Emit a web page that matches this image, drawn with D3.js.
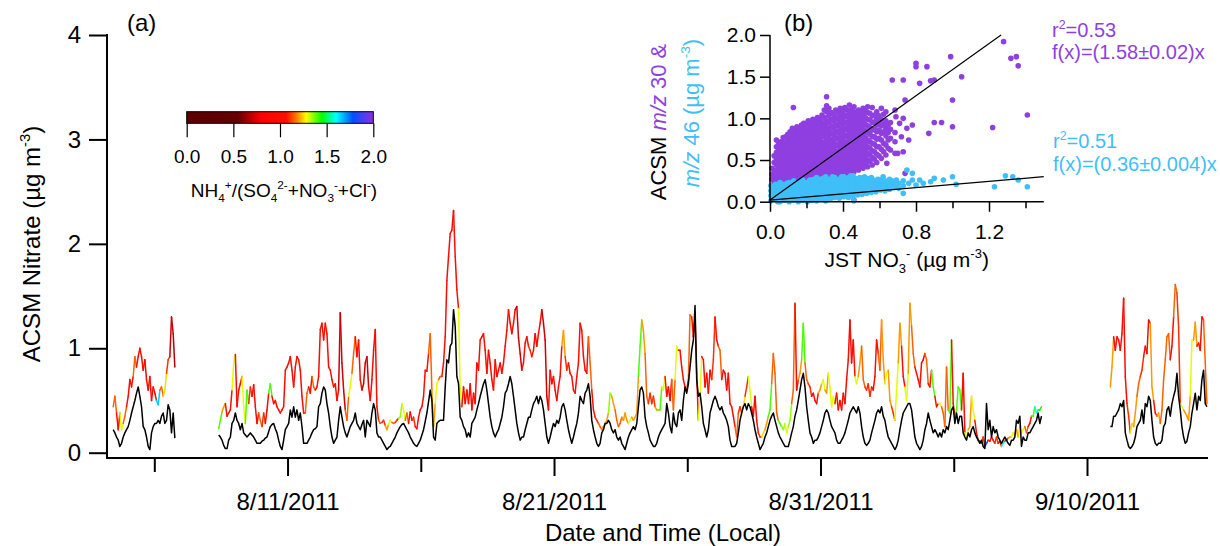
<!DOCTYPE html>
<html>
<head>
<meta charset="utf-8">
<script src="https://cdn.jsdelivr.net/npm/d3@7"></script>
<style>
  body { margin: 0; background: #fff; }
  svg { font-family: "Liberation Sans", Arial, Helvetica, sans-serif; }
</style>
</head>
<body>
<div id="chart"></div>
<script>
/* ---- time series: values every 1.5 h, NH4 ratio read every 3 h ---- */
var seg1Start = "2011-08-04T11:00";
var acsm1 = [0.44,0.54,0.38,0.22,0.38,0.22,0.28,0.35,0.44,0.54, 0.70,0.63,0.73,0.92,0.82,0.92,1.00,0.92,0.79,0.89,
  0.70,0.60,0.73,0.50,0.63,0.57,0.50,0.46,0.60,0.63, 0.54,0.60,0.76,0.89,0.92,1.30,1.14,0.82];
var jst1  = [0.22,0.19,0.15,0.12,0.06,0.09,0.15,0.19,0.22,0.25, 0.31,0.38,0.44,0.50,0.57,0.63,0.54,0.44,0.25,0.22,
  0.15,0.06,0.03,0.19,0.25,0.28,0.28,0.31,0.28,0.35, 0.38,0.28,0.31,0.46,0.41,0.19,0.38,0.14];
var ratio1 = [1.15,1.0,1.3,1.15,1.0,1.0,1.15,1.0,1.0,0.9,1.0,1.0,0.95,1.65,1.15,1.25,1.1,0.72,0.68,0.68];

var seg2Start = "2011-08-08T10:00";
var acsm2 = [
  0.23,0.31,0.39,0.44,0.47,0.35,0.38,0.41,0.60,0.86, 0.94,0.44,0.60,0.66,0.73,0.44,0.28,0.60,0.47,0.63,
  0.54,0.65,0.44,0.28,0.38,0.31,0.25,0.38,0.28,0.41, 0.57,0.66,0.54,0.47,0.50,0.44,0.41,0.38,0.41,0.44,
  0.79,0.82,0.86,0.92,0.79,0.63,0.82,0.92,0.89,0.79, 0.54,0.38,0.38,0.57,0.63,0.57,0.73,0.63,0.60,0.63,
  0.73,1.18,1.24,1.08,1.24,1.14,0.82,0.79,0.70,0.63, 0.66,0.50,0.60,1.34,0.86,0.60,0.41,0.31,0.54,0.63,
  0.76,0.95,1.11,0.92,1.08,0.70,0.60,0.66,0.86,0.92, 0.63,0.50,0.70,0.98,1.18,0.44,0.31,
  0.28,0.29,0.31,0.26,0.22,0.27,0.31,0.29,0.28,0.29, 0.31,0.33,0.34,0.47,0.41,0.31,0.38,0.28,0.39,0.31,
  0.34,0.25,0.23,0.34,0.41,0.44,0.54,0.79,0.78,0.95, 1.14,0.60,0.25,0.47,0.66,0.70,0.73,0.73,0.86,1.11,
  1.65,1.88,2.10,2.13,2.32,1.88,1.56,1.38,0.60,0.44, 0.63,0.47,0.60,0.47,0.66,0.41,0.57,0.47,0.86,0.79,
  1.08,1.11,1.14,0.98,0.76,0.98,0.86,0.70,0.60,0.89, 0.73,0.79,0.86,0.76,0.86,1.02,1.17,1.37,1.24,1.14,
  1.24,1.37,1.40,1.10,0.95,0.79,0.86,1.05,1.11,1.02, 0.98,0.92,0.98,1.14,1.02,1.14,1.24,1.37,1.24,1.08,
  0.54,0.41,0.79,0.66,0.73,0.60,0.50,0.63,0.73,1.02, 1.17,0.92,0.79,0.86,0.76,0.73,0.60,0.57,0.73,0.86,
  1.24,1.17,0.92,0.79,0.76,1.11,0.86,0.60,0.41,0.34, 0.31,0.28,0.25,0.22,0.25,0.28,0.31,0.38,0.57,0.54,
  0.47,0.41,0.31,0.25,0.28,0.34,0.31,0.38,0.31,0.28, 0.31,0.34,0.31,0.34,0.38,0.73,1.02,1.27,1.17,0.95,
  0.54,0.47,0.57,0.47,0.54,0.44,0.41,0.41,
  0.41,0.63,0.60,0.73,0.54,0.63,0.50,0.70,0.41,0.70, 1.02,0.98,0.98,0.82,0.70,0.63,0.60,0.70,1.32,1.30,
  1.11,1.30,0.76,0.31,0.54,0.92,0.89,0.63,0.76,0.57, 0.79,0.70,0.89,1.30,1.08,1.02,0.98,0.70,0.79,0.76,
  0.60,0.76,0.47,0.44,0.35,0.25,0.15,0.38,0.44,0.38, 0.44,0.54,0.63,0.73,0.60,0.44,0.35,0.54,0.31,0.19,
  0.15,0.15,0.19,0.22,0.28,0.35,0.41,0.66,0.95,0.76, 0.38,0.31,0.28,0.25,0.22,0.28,0.19,0.25,0.31,0.47,
  0.60,1.43,0.60,0.70,0.76,0.89,1.24,0.86,0.70,0.66, 0.63,0.54,0.57,0.50,0.47,0.57,0.60,0.66,0.70,0.60,
  0.57,0.76,0.63,0.44,0.54,0.47,0.57,0.41,0.50,0.41, 0.57,0.47,0.70,0.89,1.27,0.86,1.08,0.73,0.66,0.73,
  0.86,1.02,0.70,0.63,0.60,0.66,0.54,0.63,0.60,0.73, 1.08,0.95,0.79,1.27,0.89,0.66,0.76,0.79,0.50,0.44,
  0.38,0.31,0.60,0.86,1.24,1.02,0.73,0.63,0.50,0.76, 1.43,1.21,0.95,0.82,0.76,0.70,0.63,0.86,0.89,0.95,
  0.89,0.66,0.63,0.79,0.63,0.54,0.44,0.47,
  0.47,0.44,0.38,0.25,0.82,0.41,0.38,1.08,0.47,0.35, 0.41,0.63,0.60,0.41,0.76,0.19,0.15,0.22,0.25,0.54,
  0.41,0.31,0.19,0.12,0.11,0.09,0.15,0.06,0.09,0.12, 0.11,0.15,0.12,0.09,0.15,0.09,0.11,0.06,0.09,0.11,
  0.12,0.14,0.15,0.15,0.19,0.17,0.22,0.15,0.25,0.19, 0.22,0.25,0.19,0.25,0.28,0.35,0.35,0.44,0.38,0.41,
  0.41,0.44
];
var jst2 = [
  0.17,0.15,0.12,0.07,0.04,0.04,0.12,0.15,0.28,0.31, 0.38,0.31,0.28,0.22,0.28,0.19,0.17,0.15,0.17,0.19,
  0.17,0.15,0.12,0.09,0.09,0.09,0.11,0.12,0.14,0.15, 0.20,0.25,0.27,0.28,0.23,0.19,0.12,0.06,0.03,0.12,
  0.22,0.25,0.28,0.41,0.34,0.44,0.34,0.41,0.31,0.38, 0.25,0.09,0.09,0.09,0.12,0.15,0.19,0.22,0.23,0.25,
  0.44,0.47,0.57,0.63,0.60,0.47,0.38,0.25,0.15,0.09, 0.12,0.15,0.31,0.44,0.34,0.25,0.19,0.15,0.20,0.25,
  0.28,0.31,0.38,0.28,0.25,0.22,0.27,0.31,0.15,0.31, 0.28,0.25,0.38,0.47,0.41,0.19,0.15,
  0.15,0.12,0.09,0.06,0.03,0.05,0.06,0.09,0.12,0.15, 0.19,0.22,0.25,0.27,0.28,0.25,0.22,0.19,0.15,0.12,
  0.09,0.07,0.06,0.09,0.12,0.17,0.22,0.30,0.38,0.49, 0.60,0.50,0.15,0.12,0.28,0.30,0.31,0.31,0.31,0.63,
  0.89,0.86,1.02,1.05,1.37,1.21,0.73,0.66,0.34,0.31, 0.25,0.22,0.15,0.19,0.15,0.28,0.31,0.34,0.41,0.47,
  0.54,0.60,0.66,0.70,0.60,0.47,0.34,0.25,0.19,0.15, 0.19,0.22,0.28,0.34,0.44,0.57,0.60,0.66,0.73,0.66,
  0.54,0.41,0.28,0.19,0.12,0.15,0.15,0.22,0.28,0.34, 0.34,0.41,0.47,0.50,0.54,0.47,0.54,0.50,0.41,0.28,
  0.15,0.09,0.15,0.22,0.28,0.25,0.31,0.28,0.34,0.44, 0.47,0.41,0.31,0.22,0.15,0.09,0.15,0.22,0.28,0.38,
  0.54,0.50,0.47,0.57,0.60,0.66,0.54,0.31,0.22,0.15, 0.09,0.06,0.09,0.19,0.22,0.28,0.28,0.31,0.28,0.22,
  0.19,0.22,0.15,0.12,0.15,0.09,0.06,0.03,0.09,0.15, 0.19,0.22,0.25,0.22,0.28,0.44,0.60,0.63,0.57,0.34,
  0.25,0.19,0.12,0.09,0.06,0.06,0.09,0.15,
  0.19,0.22,0.25,0.28,0.47,0.38,0.25,0.19,0.38,0.28, 0.25,0.38,0.41,0.31,0.50,0.63,0.57,0.66,0.82,0.98,
  1.08,1.41,0.70,0.54,0.57,0.44,0.28,0.22,0.15,0.22, 0.38,0.44,0.50,0.54,0.50,0.44,0.41,0.44,0.38,0.35,
  0.31,0.25,0.12,0.06,0.06,0.06,0.09,0.19,0.31,0.38, 0.44,0.47,0.41,0.47,0.44,0.38,0.31,0.22,0.15,0.09,
  0.03,0.06,0.09,0.15,0.19,0.25,0.31,0.35,0.38,0.31, 0.25,0.19,0.15,0.12,0.09,0.06,0.06,0.06,0.12,0.19,
  0.25,0.35,0.41,0.50,0.60,0.70,0.76,0.63,0.44,0.31, 0.19,0.15,0.09,0.12,0.12,0.15,0.19,0.25,0.31,0.38,
  0.41,0.38,0.31,0.25,0.22,0.19,0.12,0.09,0.09,0.12, 0.15,0.19,0.25,0.31,0.38,0.41,0.44,0.41,0.38,0.44,
  0.38,0.25,0.15,0.09,0.07,0.09,0.12,0.19,0.25,0.31, 0.38,0.41,0.38,0.44,0.35,0.31,0.22,0.15,0.12,0.09,
  0.06,0.03,0.06,0.12,0.22,0.31,0.38,0.41,0.44,0.47, 0.47,0.41,0.28,0.15,0.09,0.06,0.03,0.06,0.12,0.22,
  0.28,0.38,0.31,0.25,0.19,0.22,0.19,0.15,
  0.19,0.15,0.22,0.19,0.25,0.22,0.31,0.41,0.44,0.28, 0.38,0.28,0.35,0.35,0.19,0.15,0.12,0.19,0.15,0.22,
  0.25,0.19,0.15,0.12,0.09,0.12,0.06,0.04,0.47,0.22, 0.31,0.15,0.25,0.19,0.22,0.15,0.12,0.09,0.12,0.15,
  0.12,0.09,0.07,0.12,0.12,0.15,0.31,0.28,0.35,0.06, 0.15,0.12,0.12,0.19,0.19,0.22,0.25,0.28,0.31,0.38,
  0.28,0.35
];
var ratio2 = [
  1.4,1.2,1.0,1.0,1.3,1.0,1.0,1.3,1.4,1.1, 1.0,1.0,1.15,1.1,1.0,1.4,1.0,1.0,1.0,1.0,
  1.0,1.0,1.0,1.0,1.0,1.0,1.15,1.0,1.15,1.0, 1.0,1.0,1.0,1.0,1.0,1.0,0.72,0.72,1.15,1.3,
  1.15,1.0,1.0,0.72,0.72,0.9,1.0,1.0,1.15,1.1, 1.2,1.3,1.15,1.1,1.35,1.3,1.15,1.0,1.1,1.0,
  1.0,1.0,1.05,1.15,1.2,1.3,1.15,1.0,1.0,1.0, 1.0,1.0,1.3,1.0,1.0,1.0,1.0,1.0,1.0,1.0,
  1.0,1.0,1.0,1.0,1.0,1.0,1.0,1.0,1.0,0.72, 0.72,1.0,1.0,1.1,1.0,0.9,1.0,0.72,0.72,1.0,
  1.0,1.0,1.0,1.2,1.1,1.0,1.0,1.0,1.0,1.0, 1.0,1.15,1.0,1.1,1.15,1.2,1.2,1.35,1.2,1.15,
  1.15,1.2,1.2,1.3,1.2,1.2,1.4,1.2,1.15,1.1, 1.1,1.2,1.4,1.3,1.0,1.0,1.15,1.3,1.0,1.0,
  1.0,1.15,1.0,1.0,1.3,1.0,1.0,1.0,1.1,1.0, 1.15,1.0,1.0,1.0,1.0,1.15,1.1,1.25,1.1,1.3,
  1.0,1.0,1.1,1.25,1.2,1.4,1.15,1.15,1.4,1.35, 1.3,1.35,1.15,1.0,1.2,1.4,1.15,1.1,1.0,1.0,
  1.2,1.3,1.2,1.3,1.3,1.0,1.0,1.0,1.0,1.0, 1.0,1.3,1.2,1.15,1.1,1.1,1.0,1.0,1.15,1.2,
  1.3,1.2,1.1,1.3,1.2,1.0,1.3,1.2,1.15,1.0, 1.0,0.9,1.15,1.0,1.4,1.0,1.3,1.15,1.15,1.4,
  1.0,1.4,1.4,1.0,1.3,1.2,1.3,1.0,1.0,1.1, 1.8,1.0,1.0,1.1,1.0,1.6,1.0,1.2,1.3,1.2,
  1.25,1.3,1.15,1.0,1.4,1.6,1.45,1.45
];

var seg3Start = "2011-09-10T21:00";
var acsm3 = [0.63,0.82,1.11,0.98,1.11,1.08,0.98,1.14,1.48,0.73, 0.47,0.35,0.19,0.28,0.25,0.38,0.54,0.66,0.73,0.79,
  0.92,1.02,0.95,1.27,1.24,0.63,0.50,0.38,0.35,0.38, 0.28,0.41,0.70,0.89,1.11,1.14,0.89,1.02,1.30,1.61,
  1.53,1.20,0.47,0.44,0.41,0.38,0.35,0.31,0.54,1.08, 1.08,1.25,1.02,1.05,0.98,1.30,1.27,0.86,0.47];
var jst3  = [0.25,0.25,0.35,0.35,0.38,0.41,0.47,0.44,0.50,0.19, 0.12,0.06,0.04,0.06,0.09,0.15,0.25,0.28,0.31,0.41,
  0.28,0.47,0.44,0.54,0.50,0.31,0.15,0.09,0.07,0.09, 0.09,0.12,0.25,0.28,0.41,0.44,0.35,0.47,0.54,0.60,
  0.76,0.54,0.41,0.25,0.15,0.09,0.11,0.19,0.25,0.38, 0.47,0.57,0.41,0.54,0.50,0.70,0.79,0.47,0.44];
var ratio3 = [1.2,1.0,1.0,1.0,1.0,1.1,1.25,1.2,1.15,1.1,1.0,1.0,1.2,1.0,1.2,1.15,1.15,1.15,1.0,1.15,1.1,1.3,1.2,1.2,1.3,1.2,1.0,1.0,1.15,1.3];

var majorDates = ["2011-08-11", "2011-08-21", "2011-08-31", "2011-09-10"];
var minorDates = ["2011-08-06", "2011-08-16", "2011-08-26", "2011-09-05"];
var yTicks = [0, 1, 2, 3, 4];

/* ---- scatter inset: columns of points [x, [y...]] plus loose points ---- */
var mz30Columns = [
  [0.010,[0.12,0.19,0.27,0.33,0.40]],
  [0.0225,[0.16,0.23,0.31,0.38,0.47,0.55]],
  [0.035,[0.13,0.21,0.28,0.36,0.44,0.51,0.59,0.66,0.74]],
  [0.0475,[0.17,0.25,0.32,0.40,0.48,0.55,0.63,0.70]],
  [0.060,[0.15,0.22,0.30,0.37,0.45,0.52,0.60,0.67,0.72]],
  [0.0725,[0.19,0.26,0.34,0.41,0.49,0.56,0.64,0.71,0.77]],
  [0.085,[0.16,0.24,0.31,0.39,0.46,0.54,0.61,0.69,0.78]],
  [0.0975,[0.20,0.28,0.35,0.43,0.50,0.58,0.66,0.74,0.81]],
  [0.110,[0.17,0.25,0.32,0.40,0.47,0.55,0.62,0.70,0.77,0.84]],
  [0.1225,[0.21,0.29,0.36,0.44,0.51,0.59,0.67,0.74,0.81,0.88]],
  [0.135,[0.19,0.26,0.34,0.41,0.49,0.56,0.64,0.71,0.79,0.86]],
  [0.1475,[0.23,0.30,0.38,0.45,0.53,0.60,0.68,0.76,0.83,0.90]],
  [0.160,[0.20,0.28,0.35,0.43,0.50,0.58,0.65,0.73,0.80,0.88]],
  [0.1725,[0.24,0.32,0.39,0.47,0.55,0.62,0.70,0.77,0.85,0.92]],
  [0.185,[0.21,0.29,0.36,0.44,0.52,0.59,0.67,0.74,0.82,0.89,0.94]],
  [0.1975,[0.25,0.33,0.41,0.48,0.56,0.64,0.71,0.79,0.87,0.94]],
  [0.210,[0.22,0.30,0.38,0.45,0.53,0.60,0.68,0.76,0.83,0.91,0.97]],
  [0.2225,[0.26,0.34,0.42,0.50,0.57,0.65,0.73,0.80,0.88,0.95]],
  [0.235,[0.24,0.31,0.39,0.47,0.54,0.62,0.69,0.77,0.85,0.92,0.99]],
  [0.2475,[0.28,0.36,0.43,0.51,0.59,0.66,0.74,0.82,0.90,0.97]],
  [0.260,[0.25,0.33,0.40,0.48,0.56,0.63,0.71,0.79,0.86,0.94,1.01]],
  [0.2725,[0.29,0.37,0.45,0.53,0.60,0.68,0.76,0.83,0.91,0.99]],
  [0.285,[0.26,0.34,0.42,0.49,0.57,0.65,0.72,0.80,0.88,0.95,1.04]],
  [0.2975,[0.31,0.39,0.46,0.54,0.62,0.70,0.78,0.85,0.93,1.01,1.10]],
  [0.310,[0.27,0.35,0.43,0.51,0.58,0.66,0.74,0.82,0.89,0.97,1.08,1.15,1.26]],
  [0.3225,[0.32,0.40,0.48,0.56,0.63,0.71,0.79,0.87,0.95,1.03,1.12]],
  [0.335,[0.29,0.37,0.44,0.52,0.60,0.68,0.75,0.83,0.91,0.99,1.07]],
  [0.3475,[0.33,0.41,0.49,0.57,0.65,0.73,0.81,0.89,0.97,1.05]],
  [0.360,[0.30,0.38,0.46,0.54,0.61,0.69,0.77,0.85,0.93,1.01,1.10]],
  [0.3725,[0.35,0.43,0.51,0.59,0.67,0.75,0.83,0.91,0.99,1.07]],
  [0.385,[0.31,0.39,0.47,0.55,0.63,0.71,0.79,0.87,0.95,1.03,1.12]],
  [0.3975,[0.36,0.44,0.52,0.60,0.68,0.76,0.84,0.92,1.00,1.08]],
  [0.410,[0.33,0.41,0.49,0.57,0.65,0.72,0.80,0.88,0.96,1.04,1.13]],
  [0.4225,[0.38,0.46,0.54,0.62,0.70,0.78,0.86,0.94,1.02,1.10]],
  [0.435,[0.34,0.42,0.50,0.58,0.66,0.74,0.82,0.90,0.98,1.06,1.16]],
  [0.4475,[0.39,0.47,0.55,0.63,0.71,0.79,0.87,0.95,1.03,1.11]],
  [0.460,[0.36,0.44,0.52,0.60,0.68,0.76,0.84,0.92,1.00,1.08,1.14]],
  [0.4725,[0.41,0.49,0.57,0.65,0.73,0.81,0.89,0.97,1.05]],
  [0.485,[0.38,0.46,0.54,0.62,0.70,0.78,0.86,0.94,1.02,1.10]],
  [0.4975,[0.43,0.51,0.59,0.67,0.75,0.83,0.91,0.99,1.07]],
  [0.510,[0.40,0.48,0.56,0.64,0.72,0.80,0.88,0.96,1.04,1.12]],
  [0.5225,[0.45,0.53,0.61,0.69,0.77,0.85,0.93,1.01,1.09]],
  [0.535,[0.42,0.50,0.58,0.66,0.74,0.83,0.91,0.99,1.07,1.14]],
  [0.5475,[0.48,0.56,0.64,0.72,0.81,0.89,0.98,1.06]],
  [0.560,[0.44,0.53,0.61,0.70,0.78,0.86,0.95,1.03,1.13]],
  [0.5725,[0.51,0.60,0.69,0.78,0.87,0.96,1.04]],
  [0.585,[0.47,0.57,0.66,0.75,0.84,0.92,1.00,1.08]],
  [0.5975,[0.55,0.66,0.76,0.86,0.95,1.03]],
  [0.610,[0.52,0.63,0.74,0.82,0.91,0.99,1.12]],
  [0.6225,[0.60,0.70,0.84,0.93,1.05]],
  [0.635,[0.56,0.68,0.79,0.88,0.97,1.08]],
  [0.6475,[0.64,0.74,0.83,0.92]],
  [0.660,[0.62,0.76,0.87,0.95]],
  [0.685,[0.58,0.72,0.83,1.10]]
];
var mz30Loose = [[0.128,1.13],[0.67,1.46],[0.70,0.58],[0.73,0.60],[0.71,0.94],[0.73,1.00],[0.74,1.22],[0.73,1.46],
  [0.78,0.92],[0.80,1.66],[0.80,1.62],[0.82,1.42],[0.86,1.62],[0.87,0.82],[0.88,1.45],[0.90,1.46],[0.90,0.95],
  [0.94,0.95],[0.99,1.74],[1.00,1.22],[1.00,0.90],[1.05,1.50],[1.22,0.89],[1.28,1.92],[1.32,1.72],[1.35,1.74],
  [1.36,1.63],[1.41,1.04],[0.74,0.34],[0.46,0.02],[0.76,0.74],[0.72,0.78],[0.64,0.46],[0.69,1.02],[0.75,0.88]];

var mz46Columns = [
  [0.005,[0.01,0.07,0.13,0.19]],
  [0.0175,[0.04,0.10,0.16]],
  [0.030,[0.03,0.09,0.15,0.21]],
  [0.0425,[0.00,0.06,0.12,0.18]],
  [0.055,[0.00,0.06,0.12,0.18,0.23]],
  [0.0675,[0.03,0.09,0.15,0.21]],
  [0.080,[0.02,0.08,0.14,0.20]],
  [0.0925,[0.05,0.11,0.17,0.22]],
  [0.105,[0.00,0.05,0.11,0.17,0.23]],
  [0.1175,[0.03,0.08,0.14,0.20]],
  [0.130,[0.02,0.08,0.14,0.20,0.25]],
  [0.1425,[0.05,0.11,0.17,0.23]],
  [0.155,[0.00,0.05,0.11,0.17,0.23]],
  [0.1675,[0.02,0.08,0.14,0.20,0.25]],
  [0.180,[0.02,0.08,0.14,0.20,0.26]],
  [0.1925,[0.05,0.11,0.17,0.23]],
  [0.205,[0.00,0.05,0.11,0.17,0.23]],
  [0.2175,[0.02,0.08,0.14,0.20,0.26]],
  [0.230,[0.02,0.08,0.14,0.20,0.26]],
  [0.2425,[0.04,0.10,0.16,0.22,0.27]],
  [0.255,[0.01,0.06,0.12,0.18,0.24,0.29]],
  [0.2675,[0.03,0.09,0.15,0.21,0.27]],
  [0.280,[0.03,0.09,0.15,0.21,0.27]],
  [0.2925,[0.04,0.09,0.15,0.21,0.28]],
  [0.305,[0.01,0.06,0.12,0.18,0.24,0.30]],
  [0.3175,[0.03,0.09,0.15,0.21,0.27]],
  [0.330,[0.03,0.09,0.15,0.21,0.27]],
  [0.3425,[0.06,0.12,0.18,0.24,0.30]],
  [0.355,[0.05,0.11,0.17,0.23,0.29]],
  [0.3675,[0.07,0.13,0.19,0.25]],
  [0.380,[0.04,0.09,0.15,0.21,0.27]],
  [0.3925,[0.07,0.12,0.18,0.24,0.30]],
  [0.405,[0.06,0.12,0.18,0.24,0.30]],
  [0.4175,[0.08,0.14,0.20,0.26]],
  [0.430,[0.05,0.10,0.16,0.22,0.28]],
  [0.4425,[0.08,0.13,0.19,0.25,0.31]],
  [0.455,[0.07,0.13,0.19,0.25,0.31]],
  [0.4675,[0.10,0.16,0.22,0.28]],
  [0.480,[0.08,0.14,0.20,0.26]],
  [0.4925,[0.11,0.17,0.23,0.29]],
  [0.505,[0.09,0.15,0.21,0.27]],
  [0.5175,[0.12,0.18,0.24,0.30]],
  [0.530,[0.10,0.16,0.22,0.28]],
  [0.5425,[0.13,0.19,0.25]],
  [0.555,[0.11,0.17,0.23,0.29]],
  [0.5675,[0.14,0.20,0.26]],
  [0.580,[0.12,0.18,0.24]],
  [0.5925,[0.15,0.21,0.27]],
  [0.605,[0.14,0.20,0.26]],
  [0.6175,[0.16,0.22]],
  [0.630,[0.13,0.19,0.25]],
  [0.6425,[0.17,0.23]],
  [0.655,[0.15,0.21,0.27]],
  [0.6675,[0.19,0.25]],
  [0.680,[0.17,0.23]],
  [0.6925,[0.18,0.26]],
  [0.705,[0.16,0.22]],
  [0.730,[0.10,0.19,0.25]]
];
var mz46Loose = [[0.75,0.38],[0.76,0.22],[0.78,0.34],[0.78,0.26],[0.80,0.20],[0.82,0.26],[0.84,0.22],[0.88,0.24],
  [0.90,0.28],[0.95,0.26],[1.00,0.30],[1.02,0.21],[1.23,0.18],[1.29,0.31],[1.33,0.30],[1.36,0.26],[1.41,0.18],
  [0.46,0.01],[0.62,0.30]];

var mz30Fit = [[0, 0.02], [1.266, 2.0]];
var mz46Fit = [[0, 0.02], [1.5, 0.30]];

var colorStops = [[0,"#5a0000"],[0.55,"#660000"],[0.8,"#ff0000"],[1.07,"#ff1000"],[1.18,"#ff8000"],
  [1.28,"#ffff00"],[1.45,"#00ff00"],[1.6,"#00ffff"],[1.78,"#0050ff"],[2.0,"#9030e0"]];

var purple = "#8f3fe0", blue = "#3fbff8";

/* ---- setup ---- */
var W = 1220, H = 546;
var svg = d3.select("#chart").append("svg").attr("width", W).attr("height", H);

var parseT = d3.timeParse("%Y-%m-%dT%H:%M");
var parseD = d3.timeParse("%Y-%m-%d");
var stepMs = 1.5 * 3600 * 1000;   // one value every 1.5 h, ratio every 2 values
function makeSeg(start, acsm, jst, ratio) {
  var t0 = parseT(start).getTime();
  return acsm.map(function(v, i) {
    return { t: new Date(t0 + i * stepMs), v: v, j: jst[i], r: ratio[Math.floor(i / 2)] };
  });
}
var segments = [makeSeg(seg1Start, acsm1, jst1, ratio1), makeSeg(seg2Start, acsm2, jst2, ratio2), makeSeg(seg3Start, acsm3, jst3, ratio3)];

var ratioColor = d3.scaleLinear().domain(colorStops.map(function(d){return d[0];}))
  .range(colorStops.map(function(d){return d[1];})).clamp(true);

function richText(sel, parts, size) {
  var shift = 0;
  parts.forEach(function(p) {
    var kind = p[1] || "";
    var target = kind === "sup" ? -0.42 * size : (kind === "sub" ? 0.28 * size : 0);
    var ts = sel.append("tspan").text(p[0]).attr("dy", target - shift);
    if (kind) ts.attr("font-size", size * 0.62);
    if (p[2]) ts.attr("fill", p[2]);
    if (p[3]) ts.attr("font-style", "italic");
    shift = target;
  });
}

/* ---- main panel (a) ---- */
var left = 107, right = 1208, axisY = 458;
var x = d3.scaleTime().domain([parseD("2011-08-06"), parseD("2011-09-10")]).range([154.3, 1087]);
var y = d3.scaleLinear().domain([0, 4]).range([452.7, 35]);

var plot = svg.append("g");
segments.forEach(function(seg) {
  for (var i = 0; i < seg.length - 1; i++) {
    plot.append("line")
      .attr("x1", x(seg[i].t)).attr("y1", y(seg[i].v))
      .attr("x2", x(seg[i+1].t)).attr("y2", y(seg[i+1].v))
      .attr("stroke", ratioColor(seg[i].r)).attr("stroke-width", 1.5)
      .attr("stroke-linecap", "round");
  }
});
var jstLine = d3.line().x(function(d){return x(d.t);}).y(function(d){return y(d.j);});
segments.forEach(function(seg) {
  plot.append("path").attr("d", jstLine(seg)).attr("fill", "none")
    .attr("stroke", "#000").attr("stroke-width", 1.5).attr("stroke-linejoin", "round");
});

// axes
var yAxis = svg.append("g").attr("transform", "translate(" + left + ",0)")
  .call(d3.axisLeft(y).tickValues(yTicks).tickSize(18).tickPadding(8).tickFormat(d3.format("d")));
yAxis.select(".domain").remove();
yAxis.selectAll("line").attr("stroke-width", 2);
yAxis.selectAll("text").attr("font-size", 24).attr("font-family", null).attr("fill", "#000");

var xMajor = svg.append("g").attr("transform", "translate(0," + axisY + ")")
  .call(d3.axisBottom(x).tickValues(majorDates.map(parseD)).tickSize(18).tickPadding(17)
    .tickFormat(d3.timeFormat("%-m/%-d/%Y")));
xMajor.select(".domain").remove();
xMajor.selectAll("line").attr("stroke-width", 2);
xMajor.selectAll("text").attr("font-size", 24).attr("font-family", null).attr("fill", "#000");

var xMinor = svg.append("g").attr("transform", "translate(0," + axisY + ")")
  .call(d3.axisBottom(x).tickValues(minorDates.map(parseD)).tickSize(14).tickFormat(""));
xMinor.select(".domain").remove();
xMinor.selectAll("line").attr("stroke-width", 2);

svg.append("path").attr("d", "M" + left + ",34V" + axisY + "H" + right)
  .attr("fill", "none").attr("stroke", "#000").attr("stroke-width", 2);

richText(svg.append("text").attr("transform", "translate(40,244) rotate(-90)")
  .attr("text-anchor", "middle").attr("font-size", 24),
  [["ACSM Nitrate (\u00b5g m"], ["-3", "sup"], [")"]], 24);

svg.append("text").attr("x", 663).attr("y", 541).attr("text-anchor", "middle")
  .attr("font-size", 24).text("Date and Time (Local)");

svg.append("text").attr("x", 127).attr("y", 31).attr("font-size", 24).text("(a)");

// colour bar
var cb = d3.scaleLinear().domain([0, 2]).range([186.7, 373.3]);
var grad = svg.append("defs").append("linearGradient").attr("id", "cbgrad")
  .attr("x1", "0%").attr("x2", "100%").attr("y1", "0%").attr("y2", "0%");
colorStops.forEach(function(s) {
  grad.append("stop").attr("offset", (s[0] / 2 * 100) + "%").attr("stop-color", s[1]);
});
svg.append("rect").attr("x", cb(0)).attr("y", 111.7).attr("width", cb(2) - cb(0)).attr("height", 11.6)
  .attr("fill", "url(#cbgrad)").attr("stroke", "#000").attr("stroke-width", 1);
var cbAxis = svg.append("g").attr("transform", "translate(0,123.3)")
  .call(d3.axisBottom(cb).tickValues([0, 0.5, 1, 1.5, 2]).tickSize(14).tickPadding(12).tickFormat(d3.format(".1f")));
cbAxis.select(".domain").remove();
cbAxis.selectAll("line").attr("stroke-width", 1.2);
cbAxis.selectAll("text").attr("font-size", 19).attr("font-family", null).attr("fill", "#000");
richText(svg.append("text").attr("x", 284).attr("y", 197).attr("text-anchor", "middle").attr("font-size", 19),
  [["NH"], ["4", "sub"], ["+", "sup"], ["/(SO"], ["4", "sub"], ["2-", "sup"], ["+NO"], ["3", "sub"], ["-", "sup"],
   ["+Cl"], ["-", "sup"], [")"]], 19);

/* ---- inset panel (b) ---- */
var xs = d3.scaleLinear().domain([0, 1.5]).range([770, 1043.75]);
var ys = d3.scaleLinear().domain([0, 2]).range([201.7, 35]);

function flatten(cols, loose) {
  var pts = [];
  cols.forEach(function(c) { c[1].forEach(function(v) { pts.push([c[0], v]); }); });
  return pts.concat(loose);
}
var mz30 = flatten(mz30Columns, mz30Loose);
var mz46 = flatten(mz46Columns, mz46Loose);

var inset = svg.append("g");
inset.selectAll("circle.p30").data(mz30).enter().append("circle").attr("class", "p30")
  .attr("cx", function(d){return xs(d[0]);}).attr("cy", function(d){return ys(d[1]);})
  .attr("r", 2.8).attr("fill", purple);
inset.selectAll("circle.p46").data(mz46).enter().append("circle").attr("class", "p46")
  .attr("cx", function(d){return xs(d[0]);}).attr("cy", function(d){return ys(d[1]);})
  .attr("r", 2.8).attr("fill", blue);

var fitLine = d3.line().x(function(d){return xs(d[0]);}).y(function(d){return ys(d[1]);});
[mz30Fit, mz46Fit].forEach(function(f) {
  inset.append("path").attr("d", fitLine(f)).attr("stroke", "#000").attr("stroke-width", 1.2).attr("fill", "none");
});

var ysAxis = svg.append("g").attr("transform", "translate(770,0)")
  .call(d3.axisLeft(ys).tickValues([0, 0.5, 1, 1.5, 2]).tickSize(10).tickPadding(4).tickFormat(d3.format(".1f")));
ysAxis.select(".domain").remove();
ysAxis.selectAll("line").attr("stroke-width", 1.5);
ysAxis.selectAll("text").attr("font-size", 21).attr("font-family", null).attr("fill", "#000");

var xsAxis = svg.append("g").attr("transform", "translate(0,201.7)")
  .call(d3.axisBottom(xs).tickValues([0, 0.4, 0.8, 1.2]).tickSize(10).tickPadding(12).tickFormat(d3.format(".1f")));
xsAxis.select(".domain").remove();
xsAxis.selectAll("line").attr("stroke-width", 1.5);
xsAxis.selectAll("text").attr("font-size", 21).attr("font-family", null).attr("fill", "#000");
var xsMinor = svg.append("g").attr("transform", "translate(0,201.7)")
  .call(d3.axisBottom(xs).tickValues([0.2, 0.6, 1.0, 1.4]).tickSize(6.5).tickFormat(""));
xsMinor.select(".domain").remove();
xsMinor.selectAll("line").attr("stroke-width", 1.5);

svg.append("path").attr("d", "M770,35V201.7H1043.75").attr("fill", "none").attr("stroke", "#000").attr("stroke-width", 1.5);

richText(svg.append("text").attr("x", 906.7).attr("y", 266.7).attr("text-anchor", "middle").attr("font-size", 21),
  [["JST NO"], ["3", "sub"], ["-", "sup"], [" (\u00b5g m"], ["-3", "sup"], [")"]], 21);

richText(svg.append("text").attr("transform", "translate(666,122) rotate(-90)").attr("text-anchor", "middle").attr("font-size", 22),
  [["ACSM "], ["m/z", "", purple, true], [" 30 &", "", purple]], 22);
richText(svg.append("text").attr("transform", "translate(699,113) rotate(-90)").attr("text-anchor", "middle").attr("font-size", 22),
  [["m/z", "", blue, true], [" 46 (\u00b5g m", "", blue], ["-3", "sup", blue], [")", "", blue]], 22);

svg.append("text").attr("x", 784).attr("y", 31).attr("font-size", 24).text("(b)");

richText(svg.append("text").attr("x", 1052).attr("y", 37).attr("font-size", 20).attr("fill", purple),
  [["r"], ["2", "sup"], ["=0.53"]], 20);
svg.append("text").attr("x", 1052).attr("y", 59).attr("font-size", 20).attr("fill", purple).text("f(x)=(1.58\u00b10.02)x");
richText(svg.append("text").attr("x", 1053).attr("y", 148).attr("font-size", 20).attr("fill", blue),
  [["r"], ["2", "sup"], ["=0.51"]], 20);
svg.append("text").attr("x", 1053).attr("y", 171).attr("font-size", 20).attr("fill", blue).text("f(x)=(0.36\u00b10.004)x");
</script>
</body>
</html>
